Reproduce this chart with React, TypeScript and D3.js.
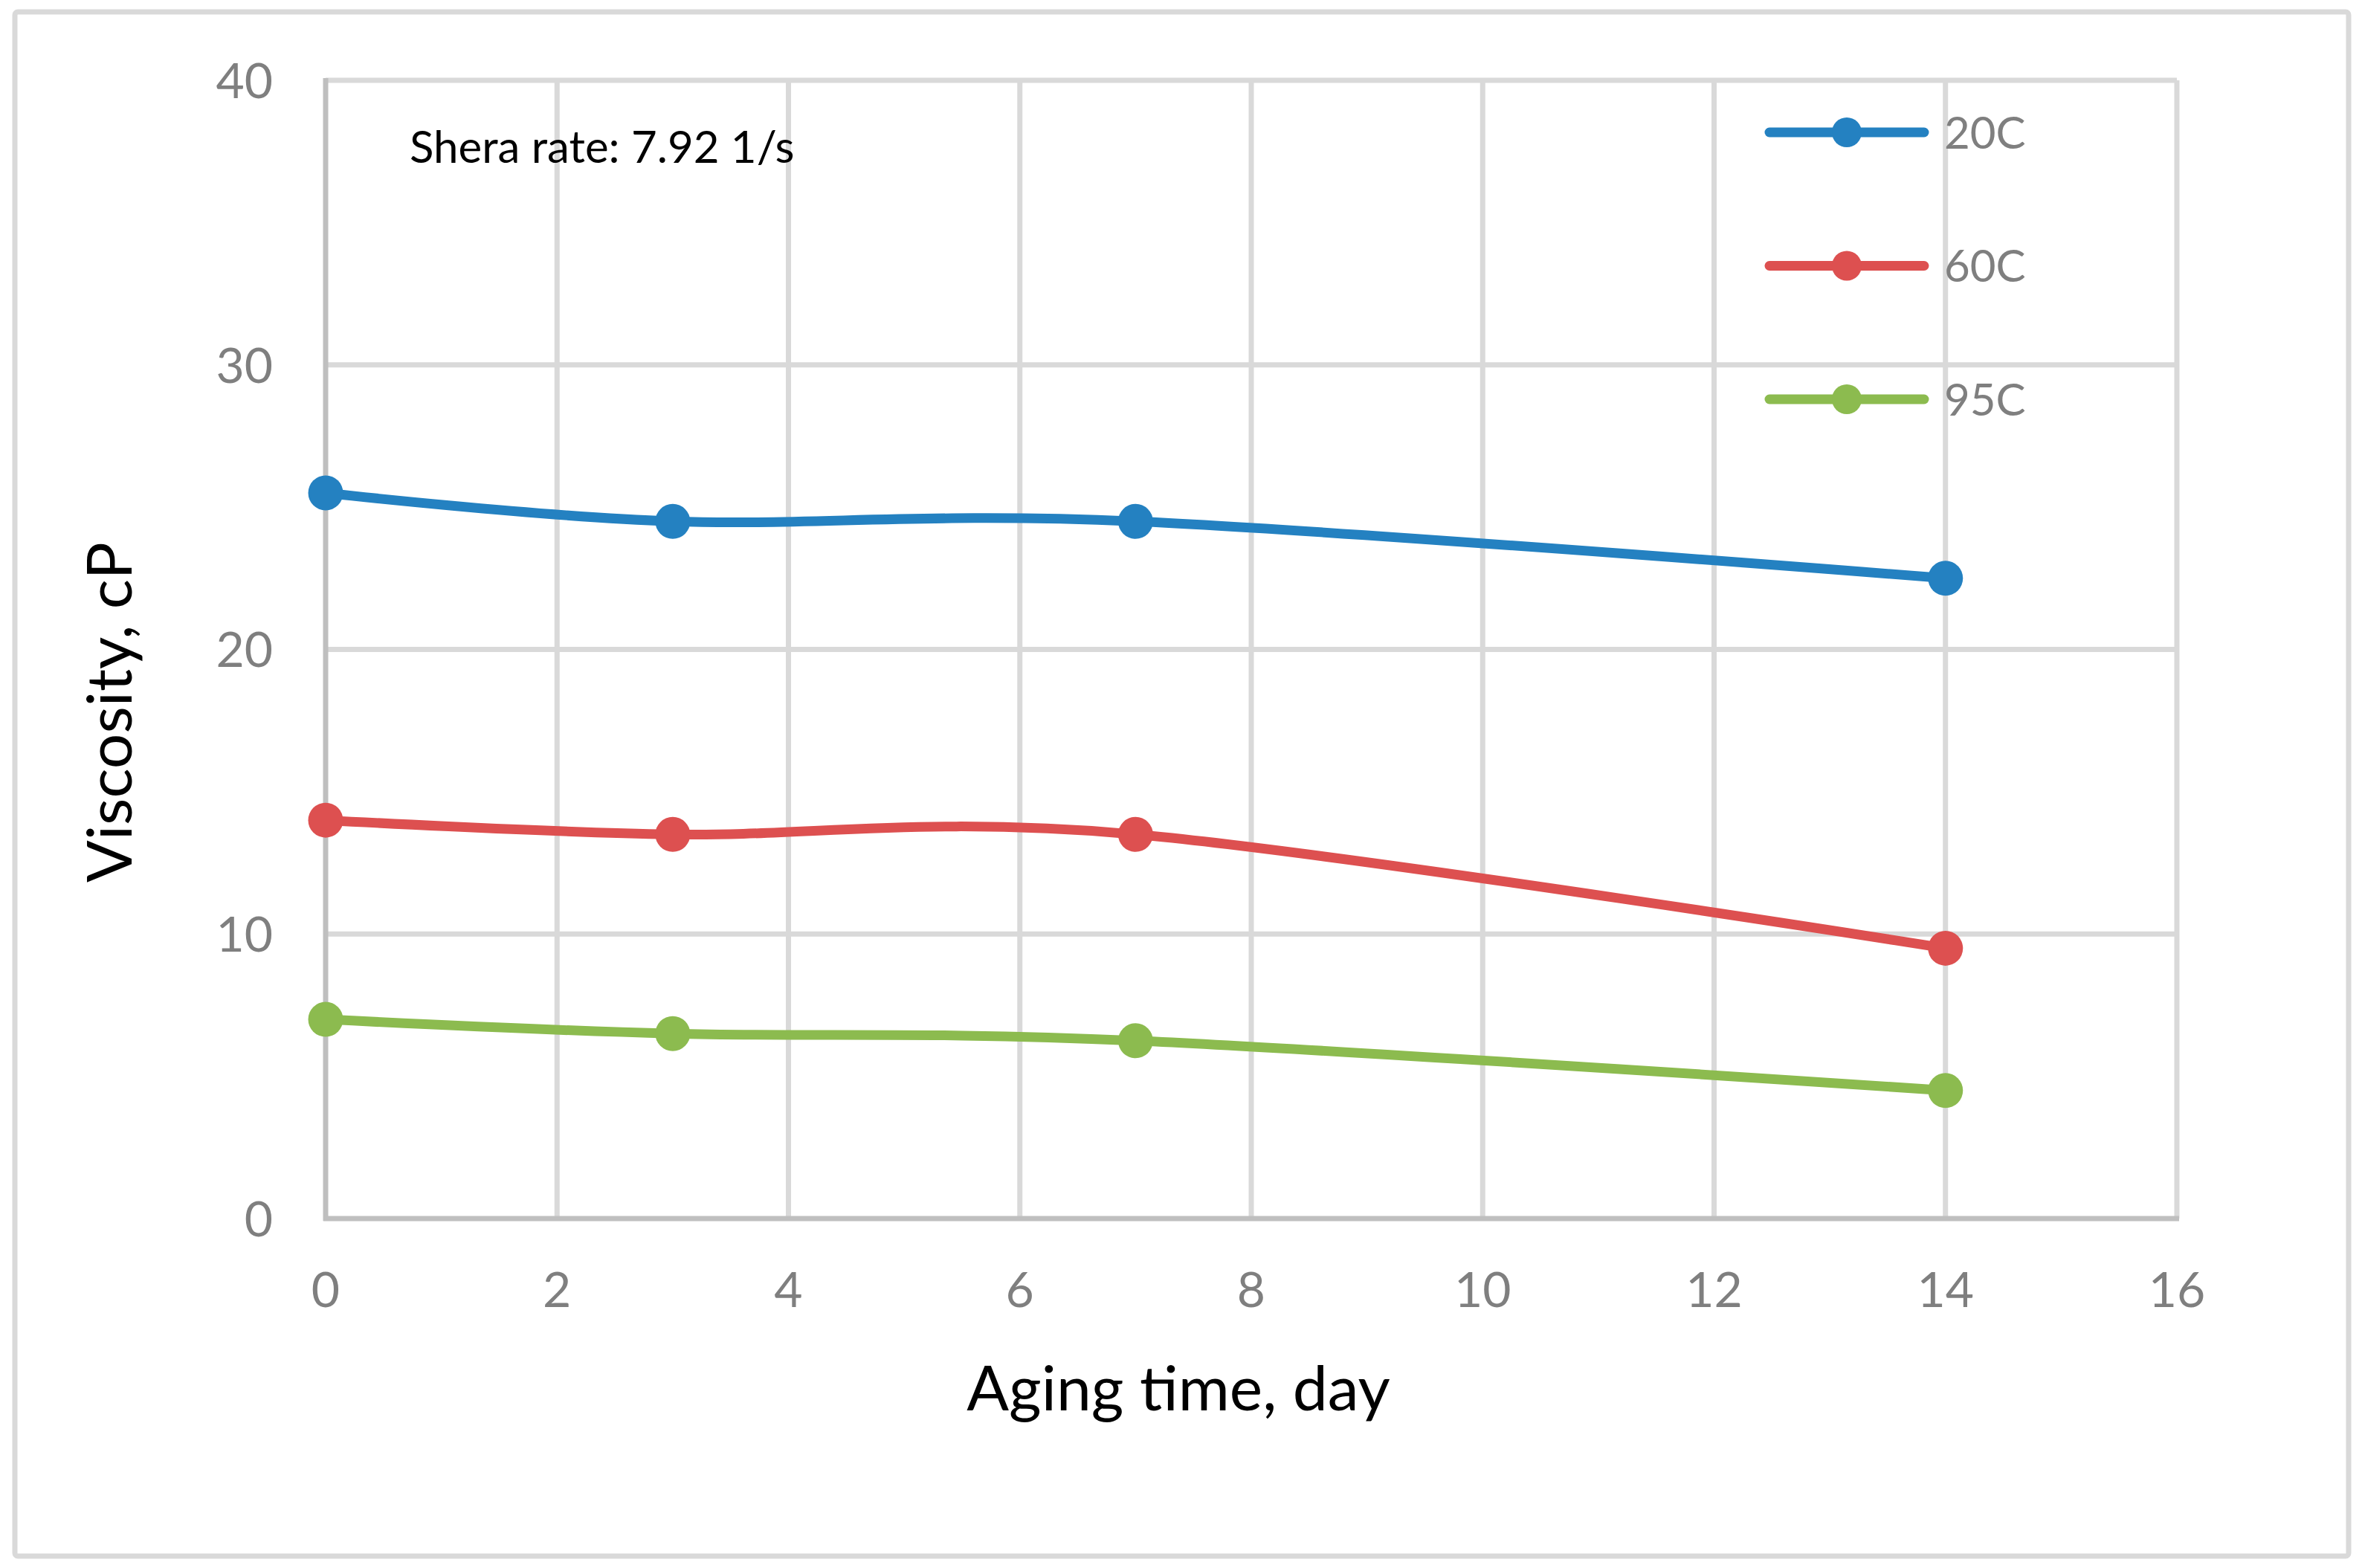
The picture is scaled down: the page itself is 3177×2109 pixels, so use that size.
import React from 'react';
import * as d3 from 'd3';

// aging time in days
const days = [0, 3, 7, 14];

// viscosity in cP per temperature
const visc20C = [25.5, 24.5, 24.5, 22.5];
const visc60C = [14, 13.5, 13.5, 9.5];
const visc95C = [7, 6.5, 6.25, 4.5];

const seriesNames = ['20C', '60C', '95C'];
const seriesColors = ['#2481c1', '#dd5050', '#8cbb4f'];

const xTicks = [0, 2, 4, 6, 8, 10, 12, 14, 16];
const yTicks = [0, 10, 20, 30, 40];

const W = 3177;
const H = 2109;
const FONT = 'Lato, "Open Sans", sans-serif';

export default function App() {
    const x = d3.scaleLinear().domain([0, 16]).range([438, 2928]);
    const y = d3.scaleLinear().domain([0, 40]).range([1639, 108]);

    const line = d3.line<number>()
        .x((_d, i) => x(days[i]))
        .y(d => y(d))
        .curve(d3.curveCardinal.tension(0));

    const series = [visc20C, visc60C, visc95C];

    return (
        <svg width={W} height={H} style={{ position: 'absolute', left: 0, top: 0 }}
            fontFamily={FONT}>
            <rect x={0} y={0} width={W} height={H} fill="#fff" />
            {/* chart border */}
            <rect x={20} y={16} width={3139} height={2077} rx={4}
                fill="#fff" stroke="#d9d9d9" strokeWidth={7} />

            {/* gridlines */}
            {yTicks.filter(t => t > 0).map(t => (
                <line key={'gy' + t} x1={x(0)} x2={x(16)} y1={y(t)} y2={y(t)}
                    stroke="#d9d9d9" strokeWidth={7} />
            ))}
            {xTicks.filter(t => t > 0).map(t => (
                <line key={'gx' + t} x1={x(t)} x2={x(t)} y1={y(0)} y2={y(40)}
                    stroke="#d9d9d9" strokeWidth={7} />
            ))}

            {/* axes */}
            <line x1={x(0)} x2={x(0)} y1={y(40) - 3} y2={y(0) + 3} stroke="#bfbfbf" strokeWidth={7} />
            <line x1={x(0) - 3} x2={x(16) + 3} y1={y(0)} y2={y(0)} stroke="#bfbfbf" strokeWidth={7} />

            {/* tick labels */}
            {yTicks.map(t => (
                <text key={'ty' + t} x={367} y={y(t)} dy="0.36em" textAnchor="end"
                    fontSize={66} fill="#7f7f7f">{t}</text>
            ))}
            {xTicks.map(t => (
                <text key={'tx' + t} x={x(t)} y={1758} textAnchor="middle"
                    fontSize={66} fill="#7f7f7f">{t}</text>
            ))}

            {/* series */}
            {series.map((vals, si) => (
                <g key={seriesNames[si]}>
                    <path d={line(vals) ?? ''} fill="none" stroke={seriesColors[si]}
                        strokeWidth={13} strokeLinejoin="round" />
                    {vals.map((v, i) => (
                        <circle key={i} cx={x(days[i])} cy={y(v)} r={23.5} fill={seriesColors[si]} />
                    ))}
                </g>
            ))}

            {/* annotation */}
            <text x={551} y={219} fontSize={60} fill="#000">Shera rate: 7.92 1/s</text>

            {/* legend */}
            {seriesNames.map((name, i) => {
                const ly = 178 + i * 179.5;
                return (
                    <g key={'lg' + name}>
                        <line x1={2380} x2={2588} y1={ly} y2={ly} stroke={seriesColors[i]}
                            strokeWidth={13} strokeLinecap="round" />
                        <circle cx={2484} cy={ly} r={20} fill={seriesColors[i]} />
                        <text x={2615} y={ly} dy="0.36em" fontSize={60} fill="#7f7f7f">{name}</text>
                    </g>
                );
            })}

            {/* axis titles */}
            <text x={1585} y={1897} textAnchor="middle" fontSize={84} fill="#000">Aging time, day</text>
            <text transform="translate(177,958) rotate(-90)" textAnchor="middle"
                fontSize={84} fill="#000">Viscosity, cP</text>
        </svg>
    );
}
